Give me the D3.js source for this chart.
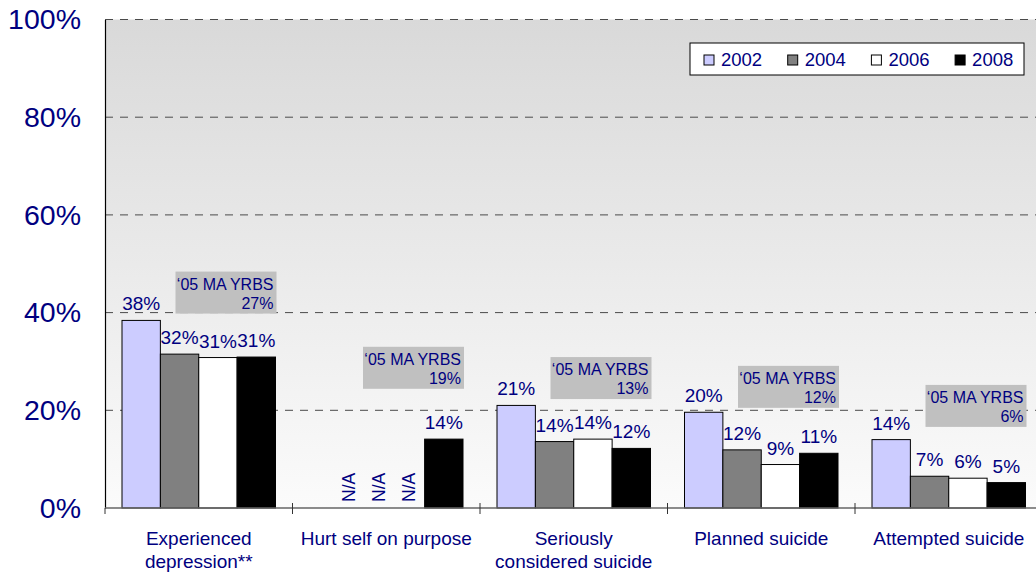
<!DOCTYPE html>
<html>
<head>
<meta charset="utf-8">
<script src="https://cdn.jsdelivr.net/npm/d3@7"></script>
<style>
	body { margin: 0; background: #ffffff; }
	svg { display: block; font-family: "Liberation Sans", Arial, sans-serif; }
</style>
</head>
<body>
<svg id="chart-svg"></svg>
<script>
'use strict'

// chart data
var categories = [
	["Experienced", "depression**"],
	["Hurt self on purpose"],
	["Seriously", "considered suicide"],
	["Planned suicide"],
	["Attempted suicide"]
];
var years = ["2002", "2004", "2006", "2008"];
var values2002 = [38.4, null, 21.0, 19.6, 14.0];
var values2004 = [31.5, null, 13.6, 11.9, 6.5];
var values2006 = [30.8, null, 14.1, 8.9, 6.1];
var values2008 = [30.9, 14.1, 12.2, 11.2, 5.2];
var yrbsValues = [27, 19, 13, 12, 6];
var yTicks = [0, 20, 40, 60, 80, 100];

var Main = function() {

	var WIDTH = 1036,
		HEIGHT = 573;

	var plot = {
		left: 105,
		top: 19.5,
		bottom: 508,
		right: 1042.5
	}

	var textColor = "#000080";
	var barColors = ["#ccccff", "#808080", "#ffffff", "#000000"];
	var series = [values2002, values2004, values2006, values2008];

	// top of the grey '05 YRBS boxes, in % units
	var noteTop = [48.4, 33.0, 30.9, 29.1, 25.2];

	this.initialize = function() {

		var svg = d3.select("#chart-svg")
			.attr("width", WIDTH)
			.attr("height", HEIGHT)

		var x0 = d3.scaleBand()
			.domain(d3.range(categories.length))
			.range([plot.left, plot.right])

		var x1 = d3.scaleBand()
			.domain(years)
			.range([17, 170.5])

		var y = d3.scaleLinear()
			.domain([0, 100])
			.range([plot.bottom, plot.top])

		// background gradient
		var grad = svg.append("defs").append("linearGradient")
			.attr("id", "bg-grad")
			.attr("x1", 0).attr("y1", 0)
			.attr("x2", 0).attr("y2", 1)
		grad.append("stop").attr("offset", "0%").attr("stop-color", "#d9d9d9")
		grad.append("stop").attr("offset", "100%").attr("stop-color", "#fbfbfb")

		svg.append("rect")
			.attr("x", plot.left)
			.attr("y", plot.top)
			.attr("width", plot.right - plot.left)
			.attr("height", plot.bottom - plot.top)
			.style("fill", "url(#bg-grad)")

		// dashed grid lines
		svg.append("g")
			.selectAll("line")
			.data(yTicks.filter(function(d) { return d > 0; }))
			.join("line")
			.attr("x1", plot.left)
			.attr("x2", plot.right)
			.attr("y1", function(d) { return y(d); })
			.attr("y2", function(d) { return y(d); })
			.style("stroke", "#4a4a4a")
			.style("stroke-width", 1)
			.style("stroke-dasharray", "8,7")

		// y axis
		var yAxis = d3.axisLeft(y)
			.tickValues(yTicks)
			.tickSize(0)
			.tickPadding(24)
			.tickFormat(function(d) { return d + "%"; })

		var yG = svg.append("g")
			.attr("transform", "translate(" + plot.left + ",0)")
			.call(yAxis)
		yG.select(".domain").style("stroke", "#000").style("stroke-width", 1.2)
		yG.selectAll("text")
			.style("font-size", "28.5px")
			.style("fill", textColor)
			.style("font-family", "'Liberation Sans', Arial, sans-serif")

		// bars
		var groups = svg.append("g")
			.selectAll("g")
			.data(categories)
			.join("g")
			.attr("transform", function(d, i) { return "translate(" + x0(i) + ",0)"; })

		groups.each(function(cat, ci) {
			var g = d3.select(this);
			var rows = years.map(function(yr, si) {
				return { year: yr, si: si, value: series[si][ci] };
			});

			g.selectAll("rect.bar")
				.data(rows.filter(function(r) { return r.value != null; }))
				.join("rect")
				.attr("class", "bar")
				.attr("x", function(r) { return x1(r.year); })
				.attr("y", function(r) { return y(r.value); })
				.attr("width", x1.bandwidth())
				.attr("height", function(r) { return y(0) - y(r.value); })
				.style("fill", function(r) { return barColors[r.si]; })
				.style("stroke", "#000")
				.style("stroke-width", 1)

			g.selectAll("text.val")
				.data(rows.filter(function(r) { return r.value != null; }))
				.join("text")
				.attr("class", "val")
				.attr("x", function(r) { return x1(r.year) + x1.bandwidth() / 2; })
				.attr("y", function(r) { return y(r.value) - 10; })
				.attr("text-anchor", "middle")
				.style("font-size", "19px")
				.style("fill", textColor)
				.text(function(r) { return Math.round(r.value) + "%"; })

			// N/A labels packed left of the first real bar
			var firstReal = rows.filter(function(r) { return r.value != null; })[0];
			g.selectAll("text.na")
				.data(rows.filter(function(r) { return r.value == null; }))
				.join("text")
				.attr("class", "na")
				.attr("transform", function(r) {
					var cx = x1(firstReal.year) - 16 - (firstReal.si - 1 - r.si) * 30;
					return "translate(" + (cx + 6) + "," + (y(0) - 6) + ") rotate(-90)";
				})
				.style("font-size", "17.5px")
				.style("fill", textColor)
				.text("N/A")

			// '05 MA YRBS note box
			var boxRight = x1.range()[1] + 1;
			var boxTop = y(noteTop[ci]);
			g.append("rect")
				.attr("x", boxRight - 101)
				.attr("y", boxTop)
				.attr("width", 101)
				.attr("height", 42)
				.style("fill", "#c0c0c0")

			g.append("text")
				.attr("x", boxRight - 3)
				.attr("y", boxTop + 18)
				.attr("text-anchor", "end")
				.style("font-size", "16px")
				.style("fill", textColor)
				.text("\u201805 MA YRBS")

			g.append("text")
				.attr("x", boxRight - 3)
				.attr("y", boxTop + 37)
				.attr("text-anchor", "end")
				.style("font-size", "16px")
				.style("fill", textColor)
				.text(yrbsValues[ci] + "%")

			// category label
			g.append("text")
				.attr("x", x0.bandwidth() / 2)
				.attr("y", 545)
				.attr("text-anchor", "middle")
				.style("font-size", "19px")
				.style("fill", textColor)
				.selectAll("tspan")
				.data(cat)
				.join("tspan")
				.attr("x", x0.bandwidth() / 2)
				.attr("dy", function(d, i) { return i == 0 ? 0 : 23; })
				.text(function(d) { return d; })
		});

		// x axis line and ticks
		svg.append("line")
			.attr("x1", plot.left)
			.attr("x2", plot.right)
			.attr("y1", plot.bottom)
			.attr("y2", plot.bottom)
			.style("stroke", "#666")
			.style("stroke-width", 1.5)

		svg.append("g")
			.selectAll("line")
			.data(d3.range(categories.length + 1))
			.join("line")
			.attr("x1", function(i) { return plot.left + i * x0.bandwidth(); })
			.attr("x2", function(i) { return plot.left + i * x0.bandwidth(); })
			.attr("y1", function(i) { return i == 0 ? plot.bottom : plot.bottom - 5; })
			.attr("y2", plot.bottom + 6)
			.style("stroke", "#333")
			.style("stroke-width", 1)

		// legend
		var legend = svg.append("g")
			.attr("transform", "translate(690,43)")

		legend.append("rect")
			.attr("width", 334)
			.attr("height", 32)
			.style("fill", "#fff")
			.style("stroke", "#000")
			.style("stroke-width", 1)

		var items = legend.selectAll("g")
			.data(years)
			.join("g")
			.attr("transform", function(d, i) { return "translate(" + (14 + i * 83.7) + ",0)"; })

		items.append("rect")
			.attr("y", 12)
			.attr("width", 10)
			.attr("height", 10)
			.style("fill", function(d, i) { return barColors[i]; })
			.style("stroke", "#000")
			.style("stroke-width", 1)

		items.append("text")
			.attr("x", 17)
			.attr("y", 23)
			.style("font-size", "18.5px")
			.style("fill", textColor)
			.text(function(d) { return d; })
	}
}

new Main().initialize();
</script>
</body>
</html>
